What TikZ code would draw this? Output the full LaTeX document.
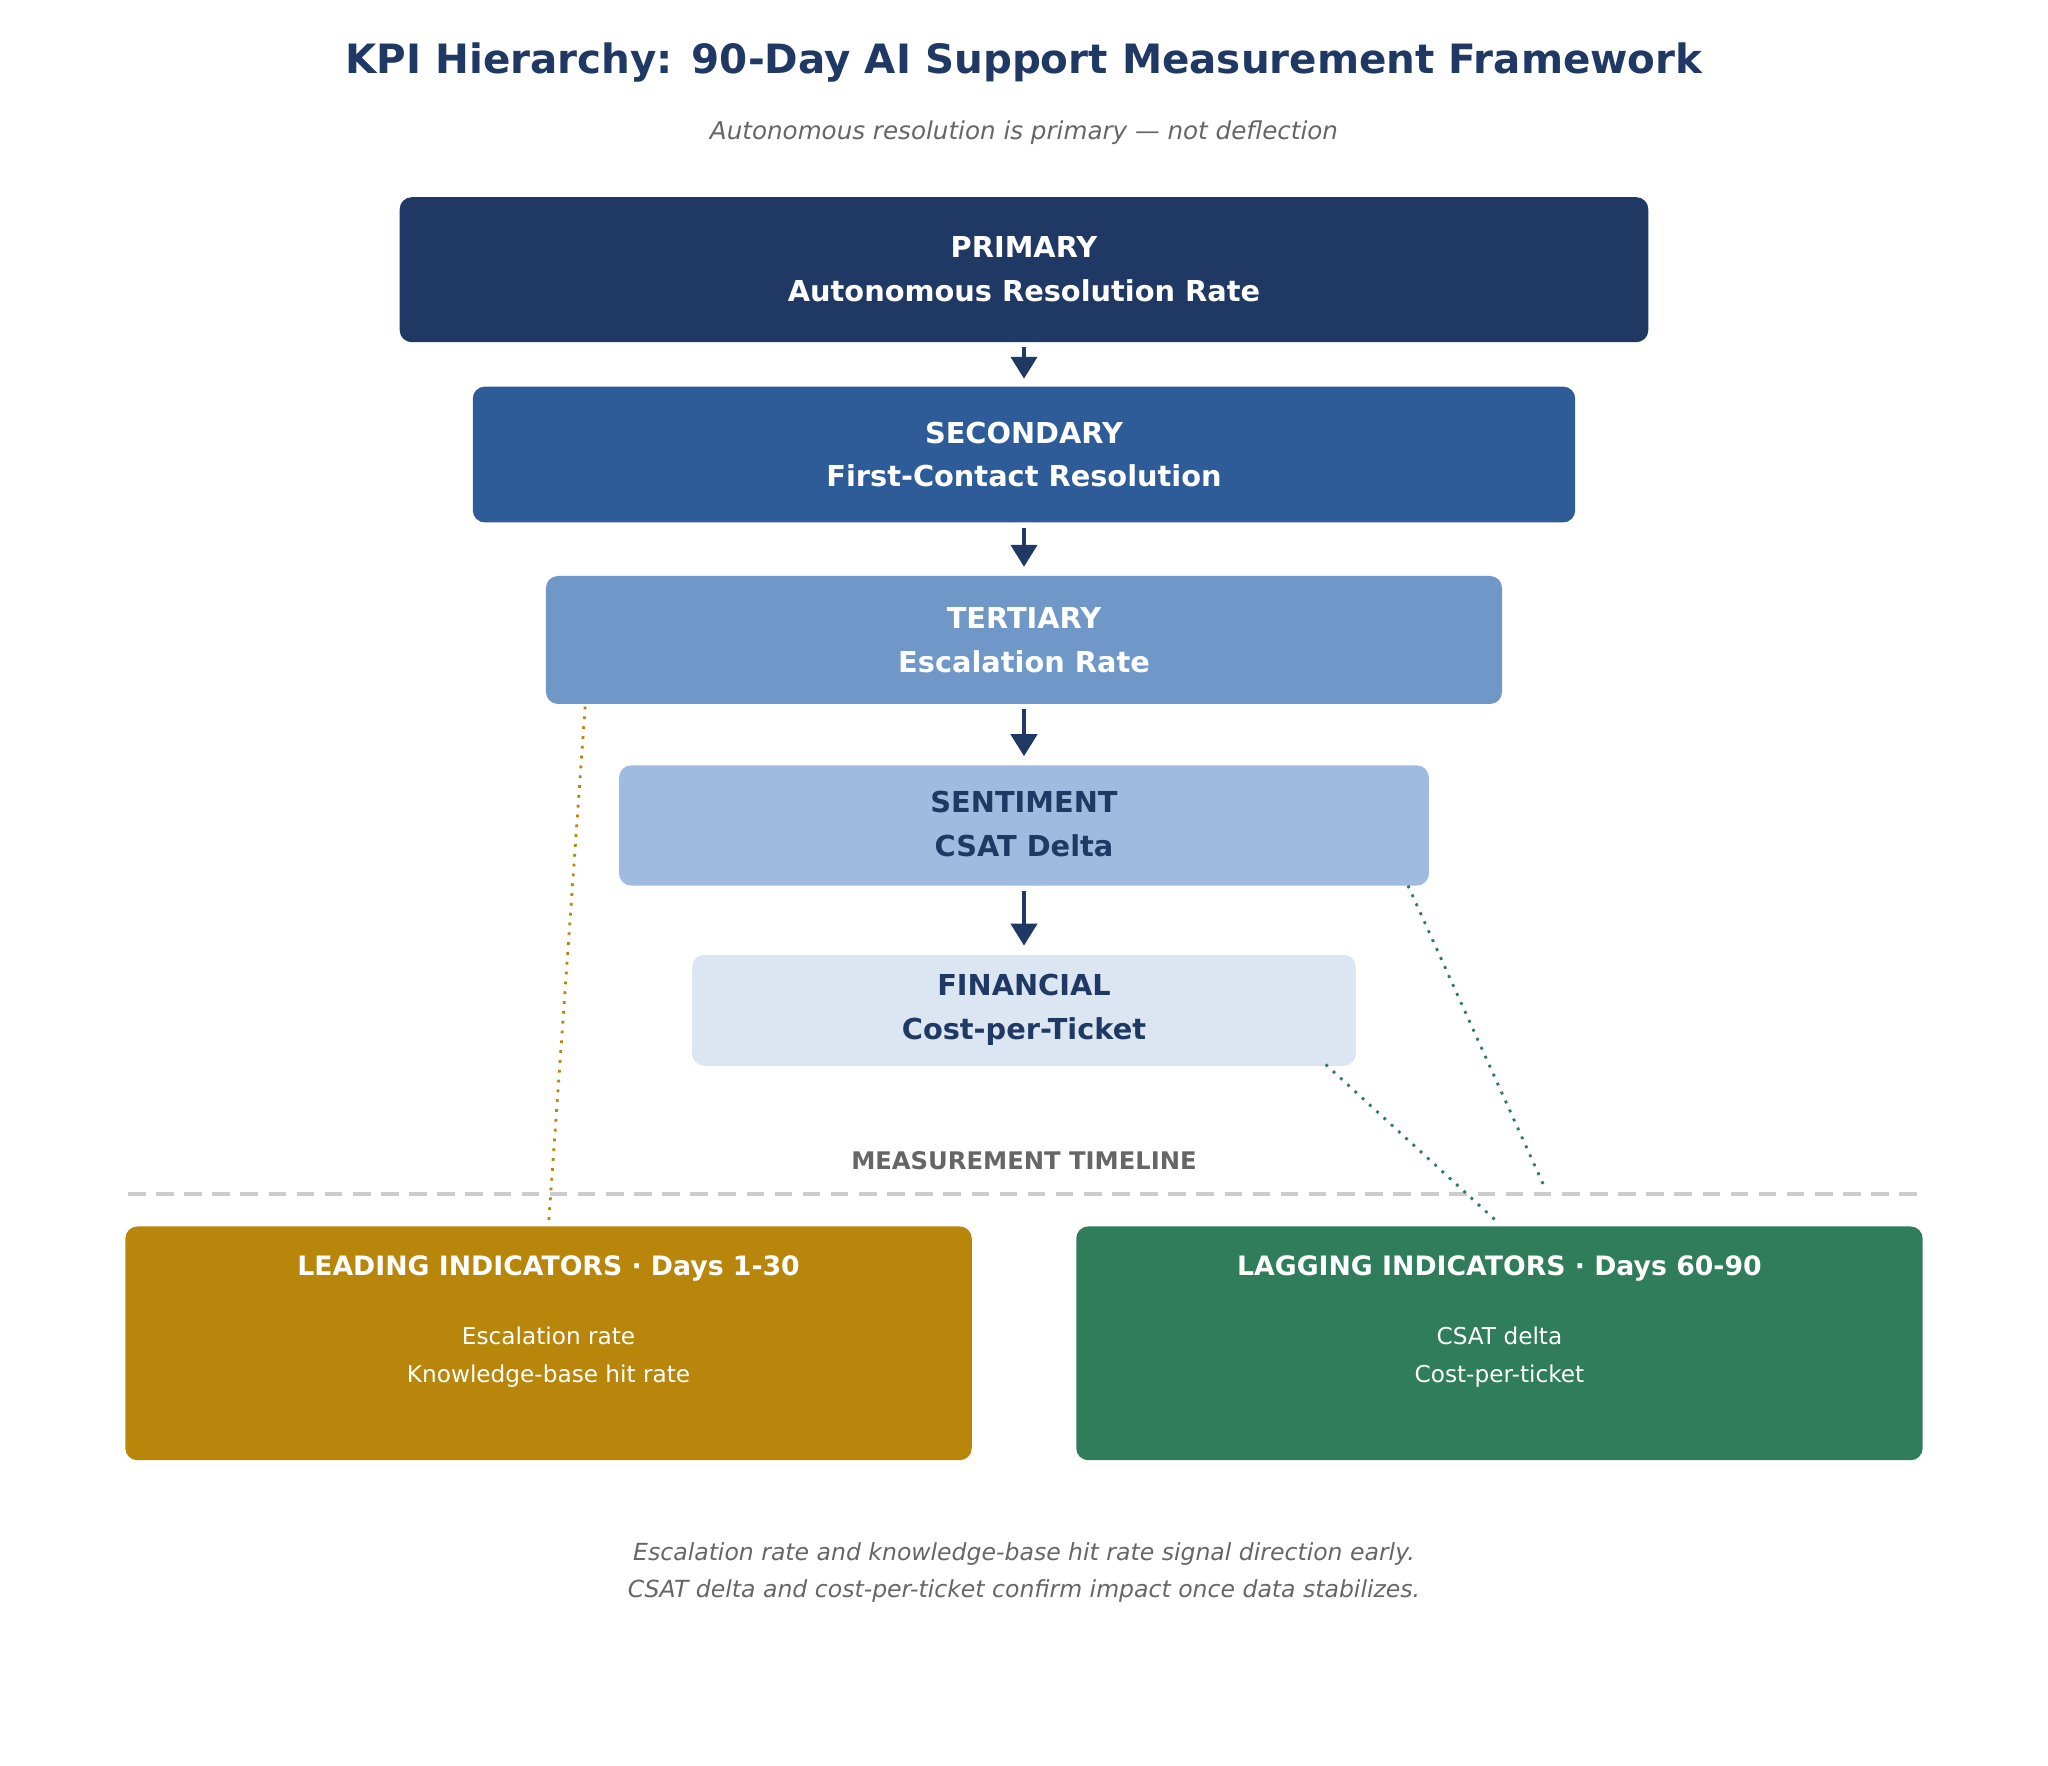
\documentclass[tikz,border=0pt]{standalone}
\usepackage{fontspec}
\setmainfont{DejaVu Sans}
\usetikzlibrary{arrows.meta}
\definecolor{navy}{HTML}{1F3864}
\definecolor{c2}{HTML}{2E5C98}
\definecolor{c3}{HTML}{6F97C8}
\definecolor{c4}{HTML}{9FBBDF}
\definecolor{c5}{HTML}{DCE6F2}
\definecolor{gold}{HTML}{B8860B}
\definecolor{grn}{HTML}{2F7D5B}
\definecolor{gtxt}{HTML}{666666}
\begin{document}
\begin{tikzpicture}[x=0.01306cm,y=-0.01306cm,
 box/.style={rounded corners=1.2mm,draw=none},
 lbl/.style={align=center,font=\bfseries\fontsize{8.2}{12.5}\selectfont},
 arr/.style={draw=navy,line width=1.2pt,-{Triangle[length=2.2mm,width=2.6mm]}},
 dot/.style={dotted,line width=0.8pt}]
\useasboundingbox (0,0) rectangle (1568,1352);
\node[font=\bfseries\fontsize{11.5}{14}\selectfont,text=navy] (title) at (784,48) {KPI Hierarchy: 90-Day AI Support Measurement Framework};
\node[font=\itshape\fontsize{7}{9}\selectfont,text=gtxt] (sub) at (784,102) {Autonomous resolution is primary — not deflection};
\fill[box,navy] (306,151) rectangle (1262,262);
\fill[box,c2] (362,296) rectangle (1206,400);
\fill[box,c3] (418,441) rectangle (1150,539);
\fill[box,c4] (474,586) rectangle (1094,678);
\fill[box,c5] (530,731) rectangle (1038,816);
\node[lbl,text=white] (p) at (784,206) {PRIMARY\\Autonomous Resolution Rate};
\node[lbl,text=white] (s) at (784,348) {SECONDARY\\First-Contact Resolution};
\node[lbl,text=white] (t) at (784,490) {TERTIARY\\Escalation Rate};
\node[lbl,text=navy] (se) at (784,631) {SENTIMENT\\CSAT Delta};
\node[lbl,text=navy] (f) at (784,773) {FINANCIAL\\Cost-per-Ticket};
\coordinate (a1) at (784,266); \coordinate (b1) at (784,290);
\coordinate (a2) at (784,404); \coordinate (b2) at (784,434);
\coordinate (a3) at (784,543); \coordinate (b3) at (784,579);
\coordinate (a4) at (784,682); \coordinate (b4) at (784,724);
\draw[arr] (a1)--(b1); \draw[arr] (a2)--(b2); \draw[arr] (a3)--(b3); \draw[arr] (a4)--(b4);
\node[font=\bfseries\fontsize{6.9}{9}\selectfont,text=gtxt] (mt) at (784,889) {MEASUREMENT TIMELINE};
\coordinate (dl) at (98,914); \coordinate (dr) at (1470,914);
\draw[dashed,draw=black!20,line width=1.1pt,dash pattern=on 5pt off 3pt] (dl)--(dr);
\fill[box,gold] (96,939) rectangle (744,1118);
\fill[box,grn] (824,939) rectangle (1472,1118);
\node[font=\bfseries\fontsize{7.6}{9}\selectfont,text=white] (lt) at (420,971) {LEADING INDICATORS · Days 1-30};
\node[font=\fontsize{6.6}{10.8}\selectfont,text=white,align=center] (li) at (420,1039) {Escalation rate\\Knowledge-base hit rate};
\node[font=\bfseries\fontsize{7.6}{9}\selectfont,text=white] (gt) at (1148,971) {LAGGING INDICATORS · Days 60-90};
\node[font=\fontsize{6.6}{10.8}\selectfont,text=white,align=center] (gi) at (1148,1039) {CSAT delta\\Cost-per-ticket};
\coordinate (g1) at (448,541); \coordinate (g2) at (420,937);
\coordinate (h1) at (1078,678); \coordinate (h2) at (1183,910);
\coordinate (k1) at (1015,815); \coordinate (k2) at (1148,937);
\draw[dot,gold] (g1)--(g2);
\draw[dot,grn] (h1)--(h2);
\draw[dot,grn] (k1)--(k2);
\node[font=\itshape\fontsize{6.7}{10.3}\selectfont,text=gtxt,align=center] (foot) at (784,1204) {Escalation rate and knowledge-base hit rate signal direction early.\\CSAT delta and cost-per-ticket confirm impact once data stabilizes.};
\end{tikzpicture}
\end{document}
